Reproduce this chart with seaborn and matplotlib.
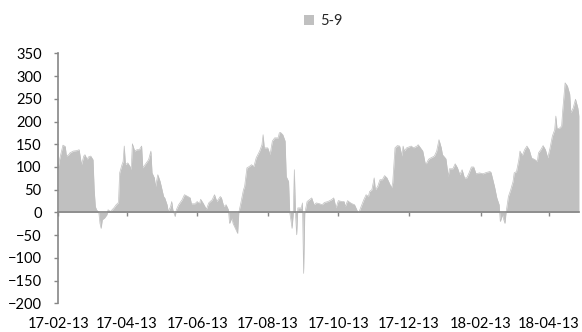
import pandas as pd
import seaborn as sns
import matplotlib.pyplot as plt
import matplotlib.dates as mdates
from matplotlib.patches import Patch

# days since 2017-02-13 and the 5-9 spread
start_date = '2017-02-13'
day_offset = [0, 1, 4, 6, 7, 9, 10, 13, 16, 18, 20, 22, 23, 25, 26, 28, 30, 31, 32, 33,
              35, 36, 37, 38, 40, 42, 43, 45, 48, 50, 52, 53, 55, 56, 57, 58, 60, 62, 63, 64,
              66, 68, 70, 72, 73, 76, 78, 80, 81, 83, 84, 86, 88, 89, 91, 92, 94, 95, 97, 98,
              99, 101, 102, 104, 107, 109, 112, 114, 115, 118, 120, 122, 123, 125, 128, 130, 133, 135, 137, 140,
              141, 143, 145, 147, 148, 150, 151, 153, 155, 156, 158, 160, 161, 163, 165, 167, 169, 171, 174, 176,
              177, 178, 181, 183, 185, 187, 190, 191, 192, 194, 196, 197, 199, 200, 201, 202, 203, 204, 205, 206,
              207, 210, 211, 212, 213, 215, 217, 219, 221, 223, 226, 228, 230, 233, 236, 238, 240, 242, 245, 247,
              248, 250, 252, 254, 256, 258, 259, 260, 262, 264, 266, 268, 269, 271, 273, 274, 276, 278, 280, 282,
              284, 286, 288, 289, 291, 293, 295, 297, 298, 299, 301, 303, 305, 307, 310, 311, 313, 315, 317, 318,
              320, 322, 325, 327, 329, 331, 332, 335, 337, 338, 341, 343, 345, 347, 349, 351, 353, 355, 357, 359,
              361, 364, 367, 370, 373, 374, 377, 379, 381, 382, 383, 384, 385, 386, 387, 389, 391, 393, 394, 396,
              398, 399, 401, 403, 405, 407, 409, 412, 414, 415, 417, 419, 421, 423, 425, 427, 429, 430, 431, 433,
              435, 436, 438, 440, 442, 443, 445, 447, 449, 450]
spread = [100, 116, 148, 145, 124, 127, 131, 135, 136, 138, 105, 124, 127, 116, 122, 124, 116, 50, 13, 6,
          0, -24, -35, -16, -12, -5, 6, 2, 10, 17, 22, 87, 105, 112, 146, 105, 109, 101, 94, 151,
          135, 138, 138, 146, 98, 109, 116, 135, 87, 76, 57, 83, 68, 57, 35, 32, 17, 2, 13, 24,
          6, -9, 6, 17, 28, 39, 35, 32, 19, 19, 24, 19, 29, 21, 7, 21, 28, 39, 24, 35,
          32, 13, 17, 6, -24, -12, -24, -35, -46, 0, 24, 50, 57, 98, 101, 105, 101, 120, 135, 149,
          171, 142, 142, 127, 157, 164, 164, 175, 176, 171, 157, 79, 68, 0, -16, -35, -5, 94, -5, -49,
          10, 10, 21, -134, -2, 24, 28, 32, 17, 21, 19, 17, 22, 24, 28, 32, 10, 26, 24, 24,
          13, 26, 22, 19, 17, 6, 0, 2, 15, 28, 39, 35, 46, 50, 76, 50, 57, 72, 72, 81,
          76, 65, 54, 65, 142, 147, 146, 124, 146, 135, 142, 144, 146, 142, 146, 149, 142, 135, 109, 107,
          117, 120, 124, 135, 160, 142, 127, 118, 79, 96, 96, 107, 98, 83, 94, 76, 76, 87, 100, 100,
          85, 87, 85, 88, 90, 88, 57, 32, 17, -20, -12, -5, -16, -24, 0, 35, 50, 68, 87, 90,
          116, 135, 125, 138, 146, 138, 120, 116, 112, 131, 138, 147, 138, 120, 142, 168, 182, 212, 185, 185,
          190, 226, 285, 278, 260, 219, 230, 249, 230, 212]
series_name = '5-9'
y_ticks = list(range(-200, 351, 50))

fill_color = '#c0c0c0'
axis_color = '#868686'

sns.set_theme(style='white')
plt.rcParams['font.family'] = ['Lato', 'DejaVu Sans']

df = pd.DataFrame({'day': pd.to_datetime(start_date) + pd.to_timedelta(day_offset, unit='D'),
                   'spread': spread})
df['x'] = mdates.date2num(df['day'])

fig = plt.figure(figsize=(5.82, 3.32), dpi=100)
ax = fig.add_axes([0.1002, 0.0861, 0.8946, 0.7534])

ax.fill_between(df['x'], df['spread'], 0, color=fill_color, linewidth=0, interpolate=True)
sns.lineplot(data=df, x='x', y='spread', ax=ax, color=fill_color, linewidth=0.5)

ax.set_xlim(df['x'].min(), df['x'].max())
ax.set_ylim(-200, 350)
ax.set_yticks(y_ticks)
ax.set_xlabel('')
ax.set_ylabel('')

for side in ['top', 'right']:
    ax.spines[side].set_visible(False)
ax.spines['left'].set_color(axis_color)
ax.spines['bottom'].set_color(axis_color)
ax.spines['bottom'].set_position(('data', 0))
ax.spines['left'].set_linewidth(1.2)
ax.spines['bottom'].set_linewidth(1.2)

locator = mdates.MonthLocator(bymonth=[2, 4, 6, 8, 10, 12], bymonthday=13)
ax.xaxis.set_major_locator(locator)
ax.tick_params(axis='x', direction='out', length=3, width=1, color=axis_color,
               labelbottom=False, bottom=True)
ax.tick_params(axis='y', direction='out', length=3, width=1, color=axis_color,
               left=True, labelsize=10.5, pad=9, labelcolor='black')

# date labels sit below the plot, not on the zero line
secax = ax.secondary_xaxis('bottom')
secax.xaxis.set_major_locator(locator)
secax.xaxis.set_major_formatter(mdates.DateFormatter('%y-%m-%d'))
secax.spines['bottom'].set_visible(False)
secax.tick_params(axis='x', length=0, pad=10, labelsize=10.5, labelcolor='black')

handles = [Patch(facecolor=fill_color, edgecolor='none', label=series_name)]
fig.legend(handles=handles, loc='center', bbox_to_anchor=(0.555, 0.937), frameon=False,
           fontsize=10.5, handlelength=0.7, handleheight=0.7, handletextpad=0.4)

fig.savefig('out.png', dpi=100)
